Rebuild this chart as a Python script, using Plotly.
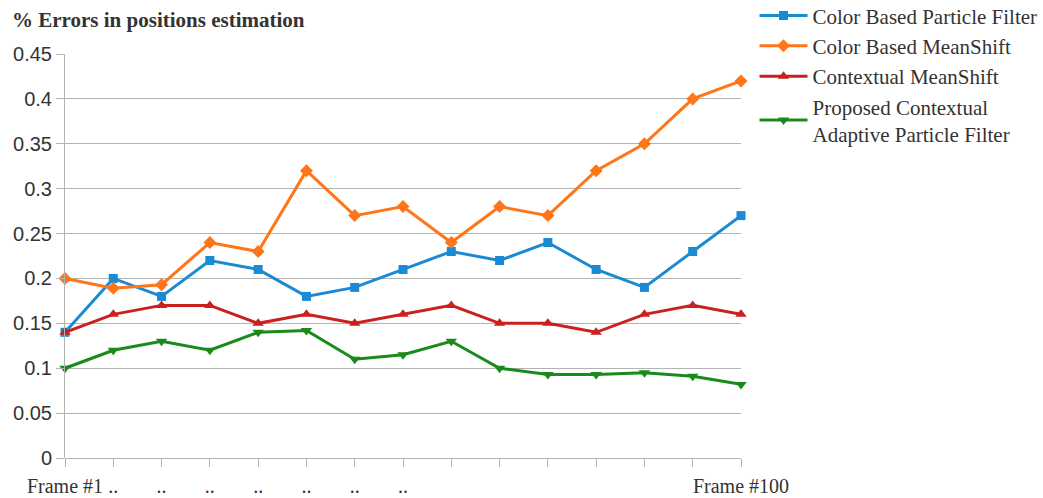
import plotly.graph_objects as go

# Frame positions along the sequence (15 sampled frames)
frames = list(range(15))
frame_labels = ["Frame #1", "..", "..", "..", "..", "..", "..", "..",
                "", "", "", "", "", "", "Frame #100"]

color_pf = [0.14, 0.20, 0.18, 0.22, 0.21, 0.18, 0.19, 0.21, 0.23, 0.22,
            0.24, 0.21, 0.19, 0.23, 0.27]
color_ms = [0.20, 0.189, 0.193, 0.24, 0.23, 0.32, 0.27, 0.28, 0.24, 0.28,
            0.27, 0.32, 0.35, 0.40, 0.42]
context_ms = [0.14, 0.16, 0.17, 0.17, 0.15, 0.16, 0.15, 0.16, 0.17, 0.15,
              0.15, 0.14, 0.16, 0.17, 0.16]
proposed = [0.10, 0.12, 0.13, 0.12, 0.14, 0.142, 0.11, 0.115, 0.13, 0.10,
            0.093, 0.093, 0.095, 0.091, 0.082]

y_ticks = [0, 0.05, 0.1, 0.15, 0.2, 0.25, 0.3, 0.35, 0.4, 0.45]
y_tick_text = ["0", "0.05", "0.1", "0.15", "0.2", "0.25", "0.3", "0.35", "0.4", "0.45"]

series = [
    ("Color Based Particle Filter", color_pf, "#1a8ad4", "square", 9),
    ("Color Based MeanShift", color_ms, "#ff7518", "diamond", 10),
    ("Contextual MeanShift", context_ms, "#c9211e", "triangle-up", 10),
    ("Proposed Contextual<br>Adaptive Particle Filter", proposed, "#1a8a1a", "triangle-down", 10),
]

fig = go.Figure()
for i, (name, vals, col, sym, size) in enumerate(series):
    fig.add_trace(go.Scatter(
        x=frames, y=vals, name=name, mode="lines+markers",
        legendgroup=f"g{i}",
        line=dict(color=col, width=3),
        marker=dict(symbol=sym, size=size, color=col),
        cliponaxis=False,
    ))

grid = "#b3b3b3"
text_col = "#333333"

fig.update_layout(
    width=1043, height=498,
    margin=dict(l=65, r=302, t=54, b=40, autoexpand=False),
    paper_bgcolor="white", plot_bgcolor="white",
    title=dict(
        text="<b>% Errors in positions estimation</b>",
        x=12 / 1043, xanchor="left", xref="container",
        y=1 - 20 / 498, yanchor="middle", yref="container",
        font=dict(family="Liberation Serif", size=21, color=text_col),
    ),
    xaxis=dict(
        range=[0, 14], tickmode="array", tickvals=frames, ticktext=frame_labels,
        showgrid=False, zeroline=False, showline=False,
        ticks="outside", ticklen=8, tickcolor=grid, tickwidth=1,
        ticklabelstandoff=2,
        tickfont=dict(family="Liberation Serif", size=20, color=text_col),
    ),
    yaxis=dict(
        range=[0, 0.45], tickmode="array", tickvals=y_ticks, ticktext=y_tick_text,
        showgrid=True, gridcolor=grid, gridwidth=1,
        zeroline=True, zerolinecolor=grid, zerolinewidth=1,
        showline=True, linecolor=grid, linewidth=1,
        ticks="outside", ticklen=8, tickcolor=grid, tickwidth=1,
        tickfont=dict(family="Liberation Sans", size=20, color=text_col),
    ),
    legend=dict(
        x=1.02, xanchor="left", y=1.145, yanchor="top",
        font=dict(family="Liberation Serif", size=21, color=text_col),
        traceorder="grouped", tracegroupgap=0,
        bgcolor="rgba(0,0,0,0)", itemwidth=48,
    ),
    showlegend=True,
)

fig.write_html("out.html")
